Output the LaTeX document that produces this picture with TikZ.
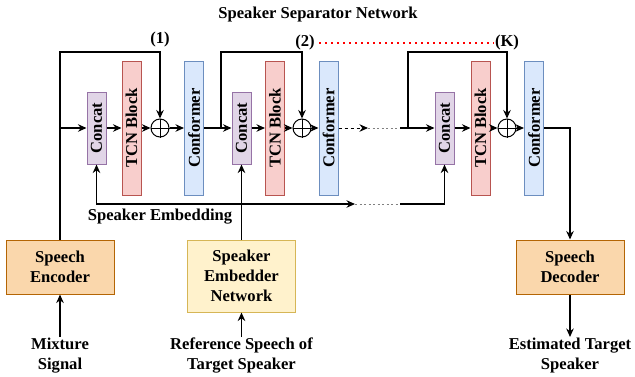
\documentclass[tikz,border=0pt]{standalone}
\usepackage{fontspec}
\setmainfont{Liberation Serif}
\usepackage{graphicx}
\usetikzlibrary{arrows.meta}
\definecolor{concatfill}{HTML}{E1D5E7}
\definecolor{concatdraw}{HTML}{9673A6}
\definecolor{tcnfill}{HTML}{F8CECC}
\definecolor{tcndraw}{HTML}{B85450}
\definecolor{conffill}{HTML}{DAE8FC}
\definecolor{confdraw}{HTML}{6C8EBF}
\definecolor{codecfill}{HTML}{FAD7AC}
\definecolor{codecdraw}{HTML}{B46504}
\definecolor{embfill}{HTML}{FFF2CC}
\definecolor{embdraw}{HTML}{D6B656}
\tikzset{
  lbl/.style={font=\fontsize{16.6}{20}\selectfont\bfseries, inner sep=0pt, align=center},
  blk/.style={lbl, draw, line width=1pt, minimum width=19pt},
  concatbox/.style={blk, fill=concatfill, draw=concatdraw, minimum height=72pt},
  tcnbox/.style={blk, fill=tcnfill, draw=tcndraw, minimum height=134pt},
  confbox/.style={blk, fill=conffill, draw=confdraw, minimum height=134pt},
  codec/.style={lbl, draw=codecdraw, fill=codecfill, line width=1pt, minimum width=108pt, minimum height=54pt},
  embbox/.style={lbl, draw=embdraw, fill=embfill, line width=1pt, minimum width=108pt, minimum height=72pt},
  addc/.style={circle, draw, line width=1pt, minimum size=18pt, inner sep=0pt},
}
\newcommand{\vlbl}[1]{\rotatebox{90}{#1}}
\begin{document}
\begin{tikzpicture}[x=1pt, y=-1pt, line width=1.6pt, >={Stealth[length=8.5pt,width=7.5pt]}]
  \useasboundingbox (0,0) rectangle (635,376);
  \node[lbl] (title) at (318,15) {Speaker Separator Network};
  \node[concatbox] (c1) at (96.5,128) {\vlbl{Concat}};
  \node[tcnbox] (t1) at (131.5,128) {\vlbl{TCN Block}};
  \node[addc] (o1) at (160,128) {};
  \node[confbox] (f1) at (194,128) {\vlbl{Conformer}};
  \node[concatbox] (c2) at (241.5,128) {\vlbl{Concat}};
  \node[tcnbox] (t2) at (275,128) {\vlbl{TCN Block}};
  \node[addc] (o2) at (302,128) {};
  \node[confbox] (f2) at (328.5,128) {\vlbl{Conformer}};
  \node[concatbox] (cK) at (444.5,128) {\vlbl{Concat}};
  \node[tcnbox] (tK) at (480.5,128) {\vlbl{TCN Block}};
  \node[addc] (oK) at (507,128) {};
  \node[confbox] (fK) at (534,128) {\vlbl{Conformer}};
  \node[lbl] (n1) at (160,40) {(1)};
  \node[lbl] (n2) at (305,43) {(2)};
  \node[lbl] (nK) at (507,43) {(K)};
  \node[codec] (enc) at (60,267) {Speech\\Encoder};
  \node[embbox] (emb) at (241.5,276) {Speaker\\Embedder\\Network};
  \node[codec] (dec) at (570,267) {Speech\\Decoder};
  \node[lbl, anchor=north] (mix) at (60,337) {Mixture\\Signal};
  \node[lbl, anchor=north] (ref) at (241.5,337) {Reference Speech of\\Target Speaker};
  \node[lbl, anchor=north] (est) at (570,337) {Estimated Target\\Speaker};
  \node[lbl] (embtxt) at (160,217) {Speaker Embedding};
  \coordinate (top1) at (60,52);
  \coordinate (b2) at (221,128);
  \coordinate (top2) at (221,52);
  \coordinate (d1) at (368,128);
  \coordinate (d2) at (400,128);
  \coordinate (bK) at (408,128);
  \coordinate (topK) at (408,52);
  \coordinate (outc) at (570,128);
  \coordinate (e1) at (241.5,204);
  \coordinate (e2) at (355,204);
  \coordinate (e3) at (400,204);
  \foreach \o in {o1,o2,oK}
    \draw[line width=1pt] (\o.north) -- (\o.south) (\o.west) -- (\o.east);
  \draw[->] (enc.north) -- (top1) -| (o1.north);
  \draw[->] (enc.north |- c1) -- (c1.west);
  \draw[->] (c1) -- (t1);
  \draw[->] (t1) -- (o1);
  \draw[->] (o1) -- (f1);
  \draw[->] (f1) -- (c2);
  \draw[->] (b2) -- (top2) -| (o2.north);
  \draw[->] (c2) -- (t2);
  \draw[->] (t2) -- (o2);
  \draw[->] (o2) -- (f2);
  \draw[->, dashed, line width=1pt] (f2) -- (d1);
  \draw[dash pattern=on 2pt off 2.5pt, line width=1pt, gray] (d1) -- (d2);
  \draw[->] (d2) -- (cK);
  \draw[->] (bK) -- (topK) -| (oK.north);
  \draw[->] (cK) -- (tK);
  \draw[->] (tK) -- (oK);
  \draw[->] (oK) -- (fK);
  \draw[->] (fK) -- (outc) -- (dec.north);
  \draw[->] (dec) -- (est);
  \draw[->] (mix) -- (enc);
  \draw[->] (ref.north) -- (emb.south);
  \draw[->] (emb.north) -- (c2.south);
  \draw[->] (e1) -| (c1.south);
  \draw[->] (e1) -- (e2);
  \draw[dash pattern=on 2pt off 2.5pt, line width=1pt, gray] (e2) -- (e3);
  \draw[->] (e3) -| (cK.south);
  \draw[red, line width=1.2pt, dash pattern=on 1.5pt off 4.5pt] (n2.east) ++(4,0) -- (nK.west);
\end{tikzpicture}
\end{document}
